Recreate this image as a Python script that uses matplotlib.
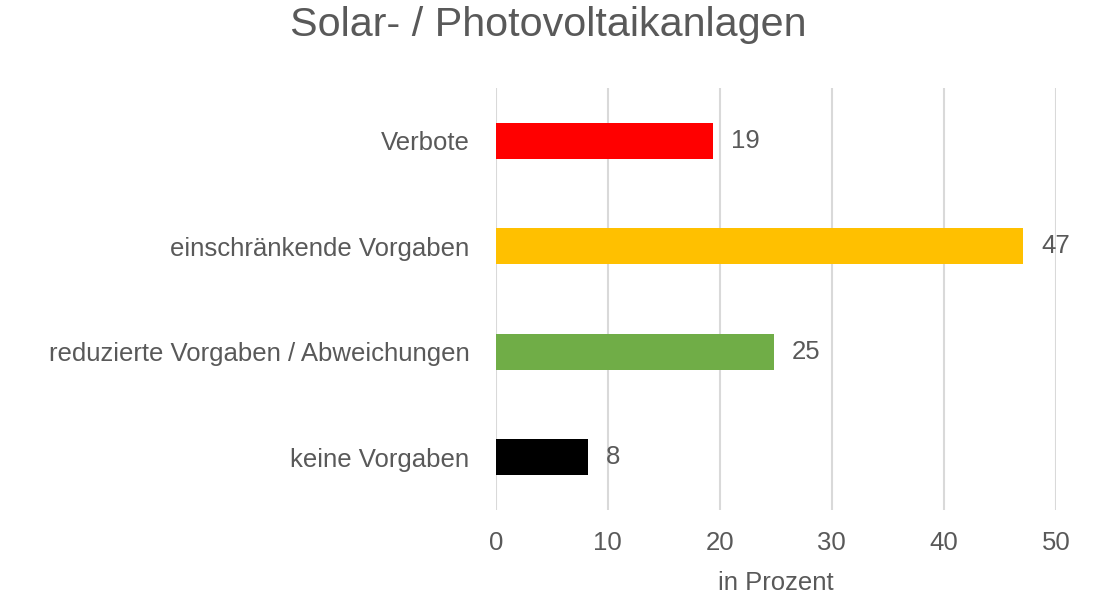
import matplotlib
matplotlib.use('Agg')
import matplotlib.pyplot as plt

categories = ['Verbote', 'einschränkende Vorgaben', 'reduzierte Vorgaben / Abweichungen', 'keine Vorgaben']
values = [19.4, 47.1, 24.8, 8.2]
labels = ['19', '47', '25', '8']
colors = ['#FF0000', '#FFC000', '#70AD47', '#000000']
xticks = [0, 10, 20, 30, 40, 50]

plt.rcParams['font.family'] = ['Liberation Sans', 'DejaVu Sans']
textColor = '#595959'
fs = 18.5

fig = plt.figure(figsize=(10.97, 5.95), dpi=100)
ax = fig.add_axes([0.452, 0.143, 0.5105, 0.709])

pos = list(range(len(categories)))
bars = ax.barh(pos, values, height=0.345, color=colors, zorder=3)
ax.bar_label(bars, labels=labels, padding=13, fontsize=fs, color=textColor)

ax.set_xlim(0, 50)
ax.set_ylim(3.5, -0.5)
ax.set_yticks(pos)
ax.set_yticklabels(categories)
ax.set_xticks(xticks)
ax.tick_params(axis='both', length=0, labelsize=fs, labelcolor=textColor)
ax.tick_params(axis='y', pad=19)
ax.tick_params(axis='x', pad=15)
ax.grid(axis='x', color='#D9D9D9', linewidth=1.5, zorder=0)
for s in ax.spines.values():
    s.set_visible(False)

ax.set_xlabel('in Prozent', fontsize=fs, color=textColor, labelpad=12)
fig.suptitle('Solar- / Photovoltaikanlagen', fontsize=29.7, color=textColor, y=0.99)

plt.savefig('out.png')
